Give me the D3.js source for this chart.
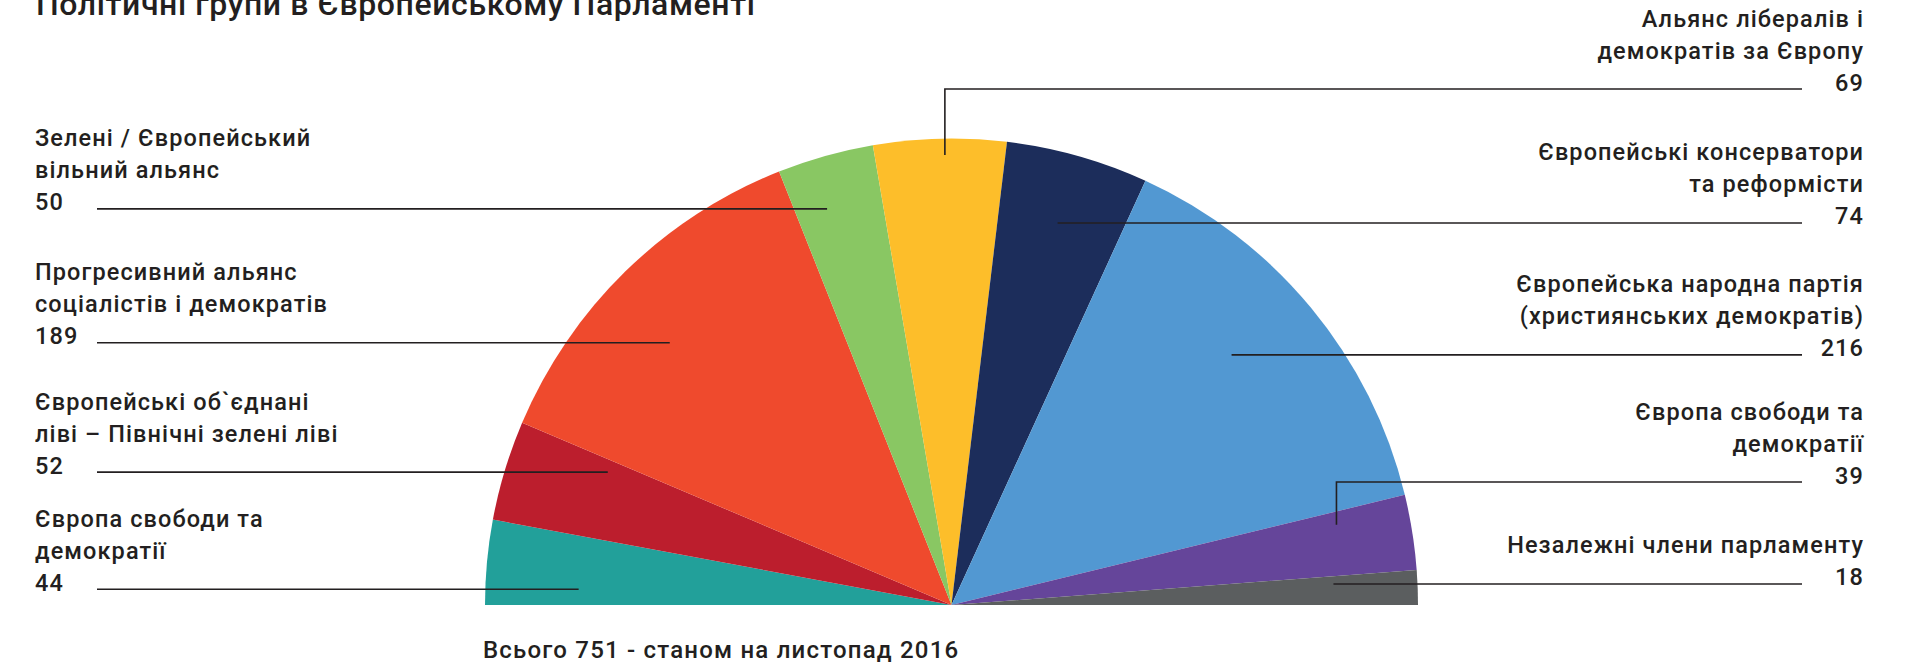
<!DOCTYPE html>
<html>
<head>
<meta charset="utf-8">
<script src="https://cdn.jsdelivr.net/npm/d3@7"></script>
<style>
  html, body { margin: 0; padding: 0; background: #fff; }
  svg { display: block; }
  text { font-family: Roboto, "Noto Sans", sans-serif; fill: #231f20; }
</style>
</head>
<body>
<svg id="chart" width="1914" height="663"></svg>
<script>
// Seats per political group, in the order they sit from left to right
const groupNames = [
    ['Європа свободи та', 'демократії'],
    ['Європейські об`єднані', 'ліві – Північні зелені ліві'],
    ['Прогресивний альянс', 'соціалістів і демократів'],
    ['Зелені / Європейський', 'вільний альянс'],
    ['Альянс лібералів і', 'демократів за Європу'],
    ['Європейські консерватори', 'та реформісти'],
    ['Європейська народна партія', '(християнських демократів)'],
    ['Європа свободи та', 'демократії'],
    ['Незалежні члени парламенту']
];
const seats = [44, 52, 189, 50, 69, 74, 216, 39, 18];
const groupColors = ['#22a09a', '#bc1e2d', '#ef4a2d', '#89c763', '#fdbe2a', '#1c2d5b', '#5298d2', '#65459a', '#5b5e5f'];
const labelSide = ['left', 'left', 'left', 'left', 'right', 'right', 'right', 'right', 'right'];

const titleText = 'Політичні групи в Європейському Парламенті';
const footerText = 'Всього 751 - станом на листопад 2016';

// Where each leader line touches its slice: share of the slice angle, share of the radius
const leaderT = [0.23, 0.85, 0.44, 0.355, 0.536, 0.49, 0.457, 0.20, 0.27];
const leaderR = [0.80, 0.79, 0.825, 0.89, 0.965, 0.85, 0.805, 0.843, 0.82];
// Elbow leaders: y of the horizontal part (null = straight line)
const leaderElbowY = [null, null, null, null, 89, null, null, 482, null];

const svg = d3.select('#chart');
const cx = 951.5, cy = 605, radius = 466.5;
const lineHeight = 32;
const leftTextX = 35, leftLineX = 97;
const rightTextX = 1864, rightLineX = 1802;

// Title (sits partly above the top edge, as in the source)
svg.append('text')
    .attr('x', 36)
    .attr('y', 15)
    .attr('font-size', 32)
    .attr('font-weight', 500)
    .attr('letter-spacing', 0.6)
    .text(titleText);

const pie = d3.pie()
    .value(d => d)
    .sort(null)
    .startAngle(-Math.PI / 2)
    .endAngle(Math.PI / 2);

const arc = d3.arc()
    .innerRadius(0)
    .outerRadius(radius);

const arcs = pie(seats);

const g = svg.append('g')
    .attr('transform', `translate(${cx},${cy})`);

g.selectAll('.segment')
    .data(arcs)
    .join('path')
    .attr('class', 'segment')
    .attr('fill', (d, i) => groupColors[i])
    .attr('d', arc);

// Leader lines and labels
arcs.forEach((a, i) => {
    const angle = a.startAngle + leaderT[i] * (a.endAngle - a.startAngle);
    const p = d3.pointRadial(angle, leaderR[i] * radius);
    const ax = cx + p[0], ay = cy + p[1];
    const lineY = leaderElbowY[i] != null ? leaderElbowY[i] : ay;
    const left = labelSide[i] === 'left';
    const endX = left ? leftLineX : rightLineX;

    const path = d3.path();
    path.moveTo(ax, ay);
    if (leaderElbowY[i] != null) path.lineTo(ax, lineY);
    path.lineTo(endX, lineY);

    svg.append('path')
        .attr('d', path.toString())
        .attr('fill', 'none')
        .attr('stroke', '#231f20')
        .attr('stroke-width', 1.6);

    const lines = groupNames[i].concat([String(seats[i])]);
    const baseY = lineY + 1.5;
    const label = svg.append('text')
        .attr('font-size', 23.5)
        .attr('font-weight', 500)
        .attr('letter-spacing', 1.1)
        .attr('text-anchor', left ? 'start' : 'end');
    lines.forEach((ln, k) => {
        label.append('tspan')
            .attr('x', left ? leftTextX : rightTextX)
            .attr('y', baseY - (lines.length - 1 - k) * lineHeight)
            .text(ln);
    });
});

svg.append('text')
    .attr('x', 483)
    .attr('y', 658)
    .attr('font-size', 24)
    .attr('font-weight', 500)
    .attr('letter-spacing', 1.2)
    .text(footerText);
</script>
</body>
</html>
